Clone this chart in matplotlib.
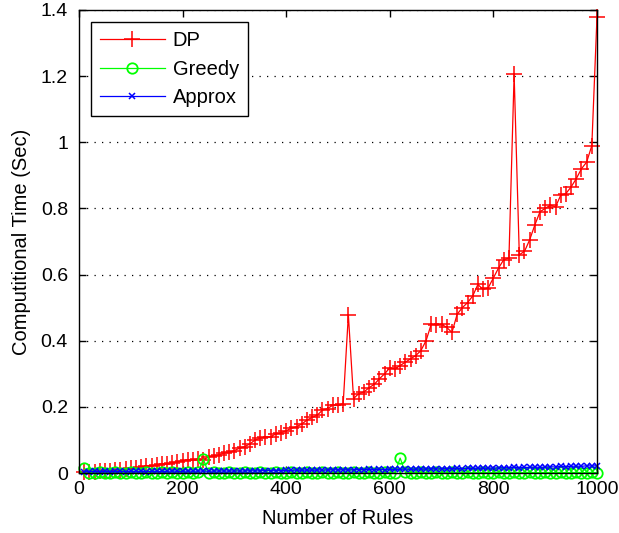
import matplotlib
matplotlib.use("Agg")
import matplotlib.pyplot as plt
import numpy as np

plt.rcParams['font.family'] = ['Liberation Sans', 'DejaVu Sans']

rules = list(range(10, 1001, 10))

dp = [0.002, 0.003, 0.004, 0.005, 0.006, 0.007, 0.009, 0.010, 0.012, 0.014,
      0.016, 0.018, 0.020, 0.022, 0.024, 0.026, 0.028, 0.031, 0.034, 0.037,
      0.038, 0.040, 0.043, 0.040, 0.048, 0.052, 0.055, 0.060, 0.062, 0.068,
      0.075, 0.080, 0.088, 0.100, 0.105, 0.108, 0.110, 0.118, 0.122, 0.128,
      0.135, 0.140, 0.148, 0.160, 0.168, 0.175, 0.190, 0.195, 0.205, 0.205,
      0.210, 0.478, 0.225, 0.240, 0.245, 0.258, 0.268, 0.285, 0.300, 0.318,
      0.315, 0.325, 0.335, 0.345, 0.355, 0.370, 0.400, 0.450, 0.448, 0.450,
      0.440, 0.425, 0.480, 0.500, 0.515, 0.535, 0.570, 0.555, 0.560, 0.590,
      0.620, 0.645, 0.650, 1.205, 0.660, 0.670, 0.705, 0.750, 0.790, 0.800,
      0.810, 0.805, 0.840, 0.845, 0.865, 0.890, 0.920, 0.940, 0.990, 1.380]

greedy = [0.015, 0.001, 0.001, 0.002, 0.001, 0.001, 0.002, 0.001, 0.001, 0.002,
          0.001, 0.001, 0.002, 0.001, 0.001, 0.002, 0.001, 0.002, 0.001, 0.001,
          0.002, 0.001, 0.002, 0.042, 0.001, 0.002, 0.001, 0.001, 0.002, 0.001,
          0.001, 0.002, 0.001, 0.001, 0.002, 0.001, 0.001, 0.002, 0.001, 0.001,
          0.002, 0.001, 0.001, 0.002, 0.001, 0.001, 0.002, 0.001, 0.001, 0.002,
          0.001, 0.001, 0.002, 0.001, 0.001, 0.002, 0.001, 0.001, 0.002, 0.001,
          0.001, 0.045, 0.002, 0.001, 0.001, 0.002, 0.001, 0.001, 0.002, 0.001,
          0.001, 0.002, 0.001, 0.001, 0.002, 0.001, 0.001, 0.002, 0.001, 0.001,
          0.002, 0.001, 0.001, 0.002, 0.001, 0.001, 0.002, 0.001, 0.001, 0.002,
          0.001, 0.001, 0.002, 0.001, 0.001, 0.002, 0.001, 0.001, 0.002, 0.001]

approx = [0.004, 0.004, 0.005, 0.004, 0.005, 0.004, 0.005, 0.005, 0.004, 0.005,
          0.005, 0.005, 0.004, 0.005, 0.005, 0.005, 0.005, 0.006, 0.005, 0.005,
          0.006, 0.005, 0.006, 0.006, 0.005, 0.006, 0.006, 0.006, 0.006, 0.006,
          0.006, 0.006, 0.007, 0.006, 0.007, 0.007, 0.007, 0.007, 0.007, 0.008,
          0.008, 0.009, 0.008, 0.009, 0.008, 0.009, 0.009, 0.009, 0.010, 0.009,
          0.010, 0.009, 0.010, 0.010, 0.010, 0.011, 0.010, 0.011, 0.010, 0.011,
          0.011, 0.011, 0.012, 0.011, 0.012, 0.012, 0.012, 0.013, 0.012, 0.013,
          0.013, 0.013, 0.014, 0.013, 0.014, 0.014, 0.015, 0.014, 0.015, 0.015,
          0.015, 0.016, 0.016, 0.017, 0.016, 0.017, 0.017, 0.018, 0.017, 0.018,
          0.019, 0.018, 0.020, 0.019, 0.020, 0.021, 0.020, 0.022, 0.021, 0.022]

xticks = [0, 200, 400, 600, 800, 1000]
yticks = [0, 0.2, 0.4, 0.6, 0.8, 1.0, 1.2, 1.4]
ytick_labels = ['0', '0.2', '0.4', '0.6', '0.8', '1', '1.2', '1.4']

fig = plt.figure(figsize=(6.19, 5.33), dpi=100)
ax = fig.add_axes([79/619, 60/533, 518/619, 463/533])

fs = 14
ax.plot(rules, dp, color='#ff0000', marker='+', markersize=11, linewidth=0.9,
        markeredgewidth=1.1, label='DP', clip_on=False)
ax.plot(rules, greedy, color='#00ff00', marker='o', markersize=7.5, linewidth=0.9,
        markerfacecolor='none', markeredgewidth=1.3, label='Greedy', clip_on=False)
ax.plot(rules, approx, color='#0000ff', marker='x', markersize=4.5, linewidth=0.9,
        markeredgewidth=1.1, label='Approx', clip_on=False)

ax.set_xlim(0, 1000)
ax.set_ylim(0, 1.4)
ax.set_xticks(xticks)
ax.set_xticklabels([str(t) for t in xticks], fontsize=fs)
ax.set_yticks(yticks)
ax.set_yticklabels(ytick_labels, fontsize=fs)
ax.tick_params(direction='in', top=True, right=True, length=5, width=1)
ax.tick_params(axis='x', pad=6)
ax.tick_params(axis='y', pad=8)
ax.yaxis.grid(True, color='black', linestyle=(0, (1, 5)), linewidth=0.9)
ax.set_axisbelow(True)
for s in ax.spines.values():
    s.set_linewidth(1.0)

ax.set_xlabel('Number of Rules', fontsize=fs + 0.5, labelpad=8)
ax.set_ylabel('Computitional Time (Sec)', fontsize=fs + 0.5, labelpad=7)

leg = ax.legend(loc='upper left', bbox_to_anchor=(12/518, 1 - 12/463), borderaxespad=0,
                fontsize=fs + 0.5, fancybox=False, edgecolor='black', framealpha=1,
                handlelength=3.2, handletextpad=0.4, labelspacing=0.48, borderpad=0.45)
leg.get_frame().set_linewidth(1.0)

fig.savefig('out.png', dpi=100)
